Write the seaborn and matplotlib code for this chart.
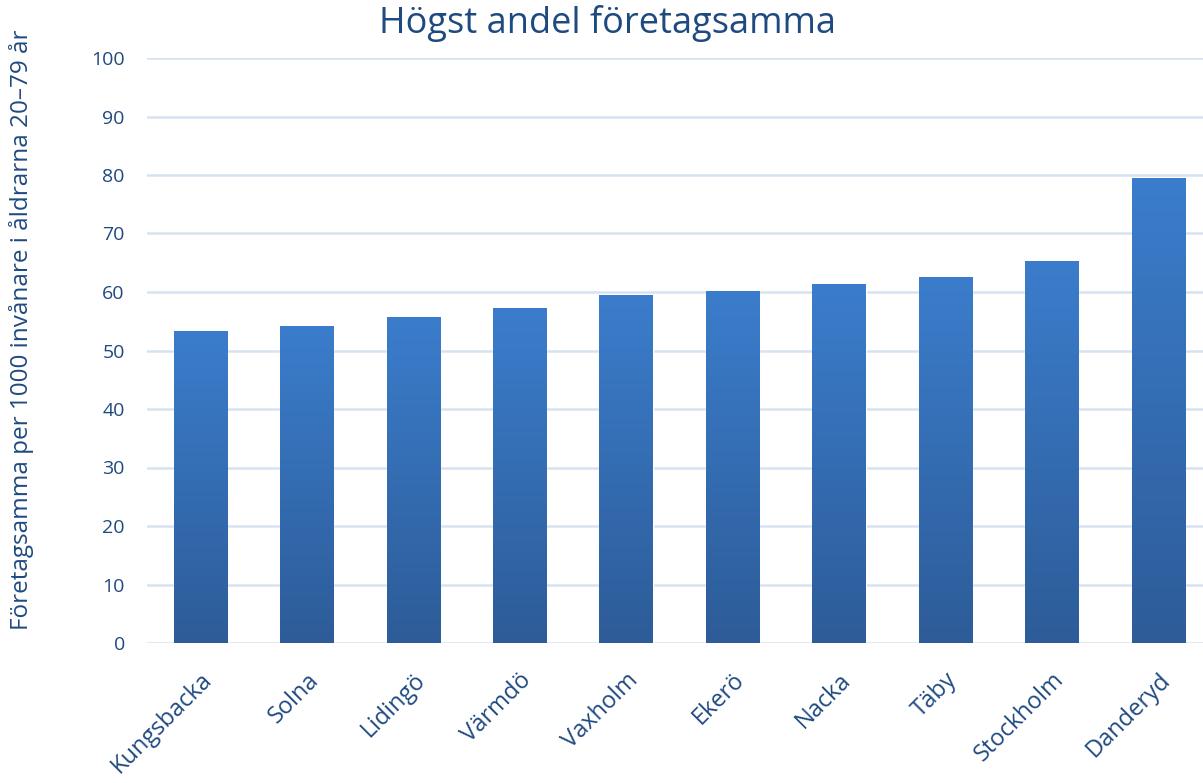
import numpy as np
import pandas as pd
import matplotlib
matplotlib.use("Agg")
import matplotlib.pyplot as plt
from matplotlib.colors import LinearSegmentedColormap
import seaborn as sns

# data
kommuner = ["Kungsbacka", "Solna", "Lidingö", "Värmdö", "Vaxholm",
            "Ekerö", "Nacka", "Täby", "Stockholm", "Danderyd"]
andel = [53.3, 54.2, 55.8, 57.2, 59.5, 60.1, 61.3, 62.6, 65.3, 79.5]
y_ticks = [0, 10, 20, 30, 40, 50, 60, 70, 80, 90, 100]

TITLE = "Högst andel företagsamma"
YLABEL = "Företagsamma per 1000 invånare i åldrarna 20–79 år"

TEXT = "#1f4a80"
GRID = "#d6e2f1"

sns.set_theme(style="white")
plt.rcParams["font.family"] = ["Open Sans", "DejaVu Sans"]

df = pd.DataFrame({"kommun": kommuner, "andel": andel})

fig = plt.figure(figsize=(12.03, 7.83), dpi=100)
ax = fig.add_axes([147 / 1203, 140 / 783, 1 - 147 / 1203, 585 / 783])

sns.barplot(data=df, x="kommun", y="andel", color="#3a7bc8",
            width=0.5, ax=ax, zorder=3)

# vertical gradient inside each bar (light at top, dark at bottom)
cmap = LinearSegmentedColormap.from_list("bar", ["#2d5c98", "#3b7dcc"])
grad = np.linspace(0, 1, 256).reshape(-1, 1)
for p in ax.patches:
    x0, w, h = p.get_x(), p.get_width(), p.get_height()
    im = ax.imshow(grad, cmap=cmap, origin="lower", aspect="auto",
                   extent=[x0, x0 + w, 0, h], zorder=3)
    im.set_clip_path(p)

ax.set_xlim(-0.5, 9.42)
ax.set_ylim(0, 100)
ax.set_yticks(y_ticks)
ax.yaxis.grid(True, color=GRID, linewidth=1.8, zorder=0)
ax.set_axisbelow(True)
for s in ax.spines.values():
    s.set_visible(False)

ax.tick_params(axis="both", length=0, colors=TEXT)
ax.tick_params(axis="y", labelsize=14, pad=16)
ax.tick_params(axis="x", labelsize=17, pad=18)
plt.setp(ax.get_xticklabels(), rotation=45, ha="right",
         rotation_mode="anchor")
ax.set_xlabel("")
ax.set_ylabel(YLABEL, fontsize=17.5, color=TEXT)
ax.yaxis.set_label_coords(-0.107, 0.535)

fig.text(0.505, 1 - 33 / 783, TITLE, ha="center", va="baseline",
         fontsize=26, color=TEXT)

fig.savefig("out.png", dpi=100)
